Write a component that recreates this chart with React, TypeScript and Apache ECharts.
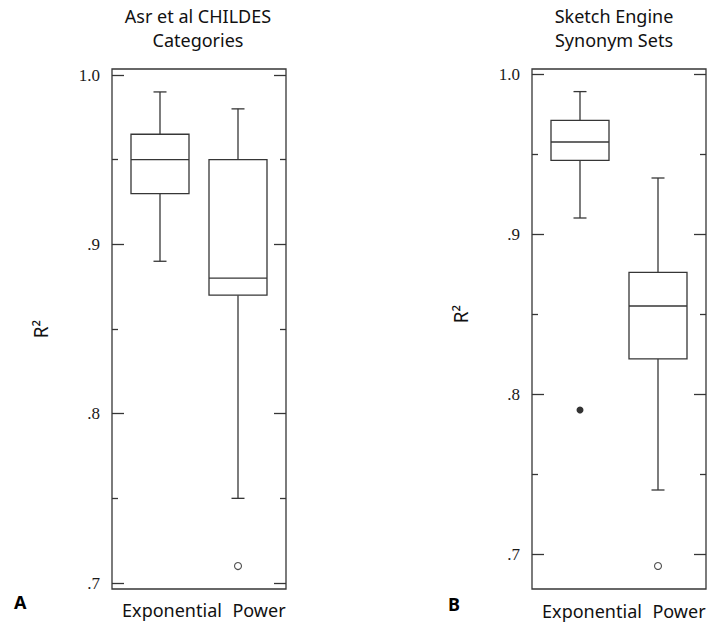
import React, { useEffect, useRef } from "react";
import * as echarts from "echarts";

const categories = ["Exponential", "Power"];
// [min whisker, Q1, median, Q3, max whisker]
const boxesA = [
  [0.89, 0.93, 0.95, 0.965, 0.99],
  [0.75, 0.87, 0.88, 0.95, 0.98],
];
const outliersAHollow = [[1, 0.71]];
const boxesB = [
  [0.91, 0.946, 0.9575, 0.971, 0.989],
  [0.74, 0.822, 0.855, 0.876, 0.935],
];
const outliersBFilled = [[0, 0.79]];
const outliersBHollow = [[1, 0.6925]];
const yTickLabels: Record<string, string> = { "0.7": ".7", "0.8": ".8", "0.9": ".9", "1.0": "1.0" };
const titles = ["Asr et al CHILDES\nCategories", "Sketch Engine\nSynonym Sets"];
const panelLetters = ["A", "B"];
const yAxisName = "R²";

const LINE = "#363636";
const SANS = "'Noto Sans', 'Open Sans', sans-serif";
const SERIF = "'Liberation Serif', 'DejaVu Serif', serif";

function renderBox(params: any, api: any) {
  const x = api.value(0);
  const pLo = api.coord([x, api.value(1)]);
  const pQ1 = api.coord([x, api.value(2)]);
  const pMed = api.coord([x, api.value(3)]);
  const pQ3 = api.coord([x, api.value(4)]);
  const pHi = api.coord([x, api.value(5)]);
  const cx = pLo[0];
  const half = 29;
  const cap = 6.5;
  const style = { stroke: LINE, lineWidth: 1.3, fill: "none" };
  return {
    type: "group",
    children: [
      { type: "line", shape: { x1: cx, y1: pQ3[1], x2: cx, y2: pHi[1] }, style },
      { type: "line", shape: { x1: cx, y1: pQ1[1], x2: cx, y2: pLo[1] }, style },
      { type: "line", shape: { x1: cx - cap, y1: pHi[1], x2: cx + cap, y2: pHi[1] }, style },
      { type: "line", shape: { x1: cx - cap, y1: pLo[1], x2: cx + cap, y2: pLo[1] }, style },
      {
        type: "rect",
        shape: { x: cx - half, y: pQ3[1], width: half * 2, height: pQ1[1] - pQ3[1] },
        style: { stroke: LINE, lineWidth: 1.3, fill: "#fff" },
      },
      { type: "line", shape: { x1: cx - half, y1: pMed[1], x2: cx + half, y2: pMed[1] }, style },
    ],
  };
}

function yAxisDef(gridIndex: number, position: "left" | "right", withLabel: boolean) {
  return {
    type: "value",
    gridIndex,
    position,
    offset: 9,
    min: 0.7,
    max: 1.0,
    interval: 0.1,
    axisLine: { show: false },
    axisTick: { show: true, inside: true, length: 12, lineStyle: { color: LINE, width: 1.3 } },
    minorTick: { show: true, splitNumber: 2, length: 6, lineStyle: { color: LINE, width: 1.3 } },
    splitLine: { show: false },
    minorSplitLine: { show: false },
    axisLabel: {
      show: withLabel,
      margin: 12,
      fontFamily: SERIF,
      fontSize: 17,
      color: "#1a1a1a",
      formatter: (v: number) => yTickLabels[v.toFixed(1)] ?? "",
    },
    name: withLabel ? yAxisName : "",
    nameLocation: "middle",
    nameRotate: 90,
    nameGap: 62,
    nameTextStyle: { fontFamily: SANS, fontSize: 19, color: "#111" },
  };
}

function xAxisDef(gridIndex: number, margin: number) {
  return {
    type: "category",
    gridIndex,
    data: categories,
    boundaryGap: true,
    axisLine: { show: false },
    axisTick: { show: false },
    splitLine: { show: false },
    axisLabel: {
      interval: 0,
      hideOverlap: false,
      margin,
      fontFamily: SANS,
      fontSize: 18,
      color: "#111",
      formatter: (v: string, i: number) => `{c${i}|${v}}`,
      rich: {
        c0: { padding: [0, 0, 0, 24], fontFamily: SANS, fontSize: 18, color: "#111" },
        c1: { padding: [0, 0, 0, 42], fontFamily: SANS, fontSize: 18, color: "#111" },
      },
    },
  };
}

export default function App() {
  const ref = useRef<HTMLDivElement>(null);
  useEffect(() => {
    if (!ref.current) return;
    const chart = echarts.init(ref.current, undefined, { renderer: "svg" });
    const toRows = (boxes: number[][]) => boxes.map((b, i) => [i, ...b]);
    const option: any = {
      animation: false,
      backgroundColor: "#fff",
      grid: [
        { left: 112, top: 69, width: 174, height: 520, show: true, borderColor: LINE, borderWidth: 1.3, backgroundColor: "transparent" },
        { left: 121, top: 75, width: 156, height: 508 },
        { left: 532, top: 69, width: 174, height: 520, show: true, borderColor: LINE, borderWidth: 1.3, backgroundColor: "transparent" },
        { left: 541, top: 74, width: 156, height: 480 },
      ],
      xAxis: [xAxisDef(1, 18), xAxisDef(3, 48)],
      yAxis: [
        yAxisDef(1, "left", true),
        yAxisDef(1, "right", false),
        yAxisDef(3, "left", true),
        yAxisDef(3, "right", false),
      ],
      series: [
        {
          type: "custom",
          xAxisIndex: 0,
          yAxisIndex: 0,
          renderItem: renderBox,
          encode: { x: 0, y: [1, 2, 3, 4, 5] },
          data: toRows(boxesA),
          clip: false,
        },
        {
          type: "scatter",
          xAxisIndex: 0,
          yAxisIndex: 0,
          symbolSize: 7,
          itemStyle: { color: "#fff", borderColor: "#222", borderWidth: 1.1 },
          data: outliersAHollow,
          clip: false,
        },
        {
          type: "custom",
          xAxisIndex: 1,
          yAxisIndex: 2,
          renderItem: renderBox,
          encode: { x: 0, y: [1, 2, 3, 4, 5] },
          data: toRows(boxesB),
          clip: false,
        },
        {
          type: "scatter",
          xAxisIndex: 1,
          yAxisIndex: 2,
          symbolSize: 7,
          itemStyle: { color: "#000" },
          data: outliersBFilled,
          clip: false,
        },
        {
          type: "scatter",
          xAxisIndex: 1,
          yAxisIndex: 2,
          symbolSize: 7,
          itemStyle: { color: "#fff", borderColor: "#222", borderWidth: 1.1 },
          data: outliersBHollow,
          clip: false,
        },
      ],
      graphic: [
        {
          type: "text",
          x: 198,
          y: 4,
          style: { text: titles[0], align: "center", verticalAlign: "top", fontFamily: SANS, fontSize: 18, lineHeight: 24, fill: "#111" },
        },
        {
          type: "text",
          x: 614,
          y: 4,
          style: { text: titles[1], align: "center", verticalAlign: "top", fontFamily: SANS, fontSize: 18, lineHeight: 24, fill: "#111" },
        },
        {
          type: "text",
          x: 14,
          y: 593,
          style: { text: panelLetters[0], fontFamily: SANS, fontSize: 18, fontWeight: "bold", fill: "#000" },
        },
        {
          type: "text",
          x: 448,
          y: 595,
          style: { text: panelLetters[1], fontFamily: SANS, fontSize: 18, fontWeight: "bold", fill: "#000" },
        },
      ],
    };
    chart.setOption(option);
    return () => chart.dispose();
  }, []);
  return <div ref={ref} style={{ width: 709, height: 625, position: "absolute", left: 0, top: 0 }} />;
}
